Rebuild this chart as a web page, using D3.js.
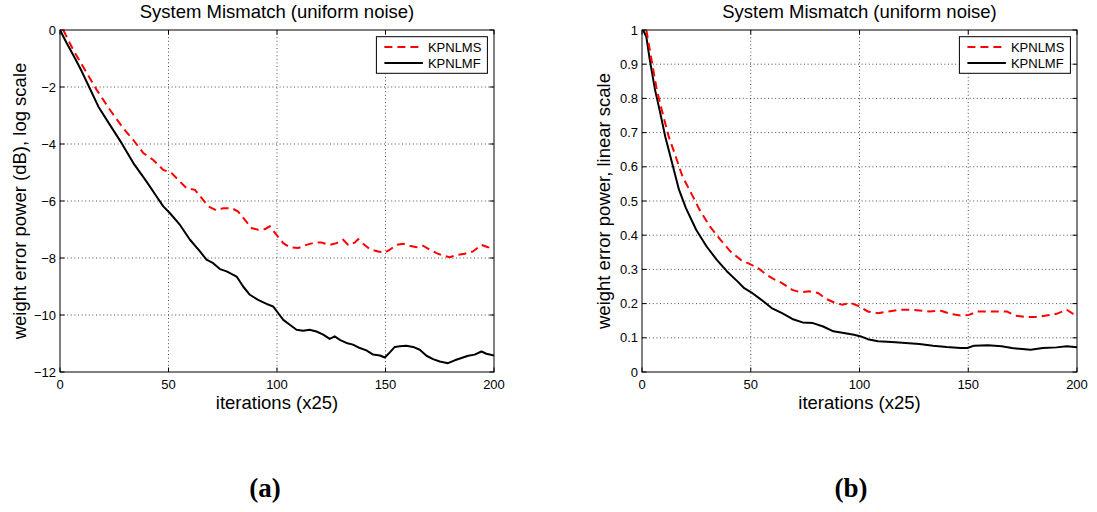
<!DOCTYPE html>
<html>
<head>
<meta charset="utf-8">
<script src="https://cdn.jsdelivr.net/npm/d3@7"></script>
<style>
  html, body { margin: 0; padding: 0; background: #fff; }
  svg { display: block; font-family: "Liberation Sans", Arial, sans-serif; }
</style>
</head>
<body>
<svg id="chart" width="1097" height="512"></svg>
<script>
// ---- data: [iteration (x25), value] ----
const TITLE = "System Mismatch (uniform noise)";
const X_LABEL = "iterations (x25)";
const SERIES_NAMES = ["KPNLMS", "KPNLMF"];
const X_TICKS = [0, 50, 100, 150, 200];
const LOG_TICKS = [0, -2, -4, -6, -8, -10, -12];
const LIN_TICKS = [0, 0.1, 0.2, 0.3, 0.4, 0.5, 0.6, 0.7, 0.8, 0.9, 1];

// panel (a): weight error power in dB
const logKPNLMS = [
  [1.5, 0], [6.1, -0.70], [11.5, -1.40], [16.9, -2.10], [23, -2.80], [29.2, -3.45],
  [33.8, -3.86], [38.4, -4.32], [43, -4.56], [47.6, -4.91], [51.4, -5.02], [55.3, -5.32],
  [58.3, -5.55], [62.2, -5.61], [65.3, -5.90], [68.3, -6.19], [72.1, -6.33], [75.2, -6.25],
  [79.1, -6.25], [82.1, -6.37], [85.2, -6.66], [88.3, -6.95], [91.3, -7.01], [94.4, -6.99],
  [96.7, -6.89], [99.8, -7.19], [102.9, -7.48], [105.9, -7.62], [109.8, -7.65], [113.6, -7.54],
  [117.4, -7.46], [120.5, -7.46], [124.3, -7.54], [127.4, -7.48], [130.5, -7.36], [132.8, -7.54],
  [135.8, -7.46], [137.4, -7.34], [139.7, -7.50], [142.8, -7.69], [146.6, -7.77], [149.7, -7.81],
  [152, -7.71], [155, -7.54], [158.1, -7.50], [161.2, -7.57], [164.2, -7.62], [167.3, -7.57],
  [170.4, -7.71], [173.5, -7.83], [176.5, -7.92], [179.6, -7.97], [183.4, -7.89], [186.5, -7.85],
  [190.3, -7.77], [194.2, -7.54], [197.2, -7.62], [200, -7.65]
];
const logKPNLMF = [
  [0, 0], [3, -0.45], [6.9, -0.99], [10, -1.45], [13, -1.93], [17.7, -2.69], [23, -3.33],
  [28.4, -3.97], [33.8, -4.67], [39.9, -5.32], [44.5, -5.84], [47.6, -6.19], [50.7, -6.43],
  [55.3, -6.84], [59.9, -7.36], [64.5, -7.77], [67.5, -8.06], [70.6, -8.18], [73.7, -8.39],
  [76.8, -8.47], [81.4, -8.65], [84.4, -9.0], [87.5, -9.29], [91.3, -9.47], [95.2, -9.61],
  [98.2, -9.70], [100.5, -9.93], [102.9, -10.17], [105.9, -10.34], [109, -10.52], [112, -10.55],
  [115, -10.52], [118.2, -10.58], [121.3, -10.69], [124.3, -10.84], [126.6, -10.75], [128.9, -10.87],
  [132, -10.98], [135, -11.04], [138.2, -11.16], [141.2, -11.24], [144.3, -11.39], [147.4, -11.42],
  [149.7, -11.49], [152, -11.31], [154.3, -11.12], [156.6, -11.10], [159.6, -11.08], [162.7, -11.12],
  [165.8, -11.22], [168.9, -11.43], [171.9, -11.55], [175, -11.63], [178.8, -11.69], [181.9, -11.59],
  [185, -11.51], [188.1, -11.43], [191.1, -11.39], [194.2, -11.28], [196.5, -11.36], [200, -11.42]
];

// panel (b): weight error power, linear
const linKPNLMS = [
  [2, 1.0], [4.4, 0.912], [6.8, 0.825], [9.1, 0.766], [12.3, 0.688], [15.5, 0.63], [18.6, 0.572],
  [22.6, 0.523], [26.5, 0.474], [31.2, 0.426], [36, 0.387], [40.7, 0.352], [45.4, 0.328],
  [49.4, 0.316], [53.3, 0.304], [57.3, 0.284], [60.4, 0.272], [64.4, 0.260], [69.1, 0.240],
  [73, 0.233], [77, 0.236], [80.9, 0.231], [84.9, 0.213], [88.8, 0.202], [92, 0.197],
  [95.9, 0.202], [99.9, 0.192], [103.8, 0.177], [108.5, 0.172], [113.3, 0.177], [118, 0.182],
  [122.7, 0.182], [127.5, 0.180], [132.2, 0.177], [137, 0.180], [141.7, 0.170], [146.4, 0.165],
  [150.3, 0.167], [154.3, 0.177], [159, 0.177], [163.7, 0.177], [167.7, 0.177], [171.6, 0.165],
  [176.4, 0.161], [181.1, 0.161], [185.8, 0.165], [190.6, 0.170], [195.3, 0.182], [197.7, 0.172],
  [200, 0.163]
];
const linKPNLMF = [
  [0.5, 1.0], [2, 0.98], [3.6, 0.912], [6, 0.825], [8.4, 0.757], [10.7, 0.688], [13.9, 0.61],
  [17, 0.533], [20.2, 0.479], [24.9, 0.416], [29.7, 0.367], [34.4, 0.328], [39.1, 0.294],
  [43.9, 0.265], [47, 0.245], [50.2, 0.233], [54.9, 0.211], [59.6, 0.187], [64.4, 0.172],
  [69.1, 0.155], [73.8, 0.145], [78.6, 0.143], [83.3, 0.133], [88, 0.119], [92.8, 0.114],
  [97.5, 0.109], [100.6, 0.104], [103.8, 0.096], [108.5, 0.090], [114.8, 0.088], [121.2, 0.085],
  [127.5, 0.082], [133.8, 0.077], [140.1, 0.073], [146.4, 0.070], [149.6, 0.070], [152.7, 0.077],
  [159, 0.078], [165.3, 0.075], [170.1, 0.070], [174.8, 0.067], [178.7, 0.065], [184.3, 0.070],
  [190.6, 0.072], [195.3, 0.075], [200, 0.072]
];

const svg = d3.select("#chart");

const PANELS = [
  { left: 60, right: 494, yLabel: "weight error power (dB), log scale", yLabelX: 20,
    domain: [-12, 0], ticks: LOG_TICKS, lms: logKPNLMS, lmf: logKPNLMF, caption: "(a)", capX: 265 },
  { left: 642, right: 1077, yLabel: "weight error power, linear scale", yLabelX: 604,
    domain: [0, 1], ticks: LIN_TICKS, lms: linKPNLMS, lmf: linKPNLMF, caption: "(b)", capX: 851 }
];
const TOP = 30, BOTTOM = 372, TICK = 4.5;

PANELS.forEach((p, i) => drawPanel(p, i));

function drawPanel(p, i){
  const x = d3.scaleLinear().domain([0, 200]).range([p.left, p.right]);
  const y = d3.scaleLinear().domain(p.domain).range([BOTTOM, TOP]);
  const g = svg.append("g");

  // dotted grid at the inner ticks
  g.append("g").selectAll("line").data(X_TICKS.filter(t => t > 0 && t < 200)).join("line")
      .attr("x1", d => x(d)).attr("x2", d => x(d)).attr("y1", TOP).attr("y2", BOTTOM)
      .attr("stroke", "#222").attr("stroke-width", 0.8).attr("stroke-dasharray", "1,2.6");
  g.append("g").selectAll("line").data(p.ticks.filter(t => t > p.domain[0] && t < p.domain[1])).join("line")
      .attr("x1", p.left).attr("x2", p.right).attr("y1", d => y(d)).attr("y2", d => y(d))
      .attr("stroke", "#222").attr("stroke-width", 0.8).attr("stroke-dasharray", "1,2.6");

  // inward ticks on all four sides (matlab style)
  const tk = g.append("g").attr("stroke", "#000").attr("stroke-width", 1);
  X_TICKS.forEach(t => {
    tk.append("line").attr("x1", x(t)).attr("x2", x(t)).attr("y1", BOTTOM).attr("y2", BOTTOM - TICK);
    tk.append("line").attr("x1", x(t)).attr("x2", x(t)).attr("y1", TOP).attr("y2", TOP + TICK);
  });
  p.ticks.forEach(t => {
    tk.append("line").attr("x1", p.left).attr("x2", p.left + TICK).attr("y1", y(t)).attr("y2", y(t));
    tk.append("line").attr("x1", p.right).attr("x2", p.right - TICK).attr("y1", y(t)).attr("y2", y(t));
  });

  // tick labels
  const fmt = d3.format("");
  g.append("g").selectAll("text").data(X_TICKS).join("text")
      .attr("x", d => x(d)).attr("y", BOTTOM + 17).attr("text-anchor", "middle")
      .attr("font-size", 13).text(d => d);
  g.append("g").selectAll("text").data(p.ticks).join("text")
      .attr("x", p.left - 4).attr("y", d => y(d) + 4.6).attr("text-anchor", "end")
      .attr("font-size", 13).text(d => fmt(d).replace("-", "\u2212"));

  // curves, clipped to the axes box
  const clipId = "clip" + i;
  svg.append("clipPath").attr("id", clipId).append("rect")
      .attr("x", p.left).attr("y", TOP).attr("width", p.right - p.left).attr("height", BOTTOM - TOP);
  const line = d3.line().x(d => x(d[0])).y(d => y(d[1]));
  const curves = g.append("g").attr("clip-path", `url(#${clipId})`);
  curves.append("path").datum(p.lmf).attr("d", line).attr("fill", "none")
      .attr("stroke", "#000").attr("stroke-width", 2).attr("stroke-linejoin", "round");
  curves.append("path").datum(p.lms).attr("d", line).attr("fill", "none")
      .attr("stroke", "#ff0000").attr("stroke-width", 2).attr("stroke-dasharray", "8,5");

  // axes box
  g.append("rect").attr("x", p.left).attr("y", TOP).attr("width", p.right - p.left)
      .attr("height", BOTTOM - TOP).attr("fill", "none").attr("stroke", "#000").attr("stroke-width", 1);

  // legend box in the top-right corner
  const lw = 111, lh = 36.6;
  const lg = g.append("g").attr("transform", `translate(${p.right - 6.6 - lw}, ${TOP + 6.7})`);
  lg.append("rect").attr("width", lw).attr("height", lh).attr("fill", "#fff")
      .attr("stroke", "#000").attr("stroke-width", 1);
  const styles = [{ c: "#ff0000", dash: "8,5" }, { c: "#000", dash: null }];
  SERIES_NAMES.forEach((name, k) => {
    const ly = 10.3 + k * 16;
    lg.append("line").attr("x1", 8).attr("x2", 46.5).attr("y1", ly).attr("y2", ly)
        .attr("stroke", styles[k].c).attr("stroke-width", 2)
        .attr("stroke-dasharray", styles[k].dash);
    lg.append("text").attr("x", 51.5).attr("y", ly + 4.6).attr("font-size", 13).text(name);
  });

  // titles and labels
  const cx = (p.left + p.right) / 2;
  g.append("text").attr("x", cx).attr("y", 18).attr("text-anchor", "middle")
      .attr("font-size", 18.5).text(TITLE);
  g.append("text").attr("x", cx).attr("y", 409).attr("text-anchor", "middle")
      .attr("font-size", 18.5).text(X_LABEL);
  g.append("text").attr("transform", `translate(${p.yLabelX + 6}, ${(TOP + BOTTOM) / 2}) rotate(-90)`)
      .attr("text-anchor", "middle").attr("font-size", 18.5).text(p.yLabel);

  // sub-figure caption
  g.append("text").attr("x", p.capX).attr("y", 497).attr("text-anchor", "middle")
      .attr("font-family", "'Liberation Serif', 'DejaVu Serif', serif").attr("font-weight", "bold")
      .attr("font-size", 27).text(p.caption);
}
</script>
</body>
</html>
